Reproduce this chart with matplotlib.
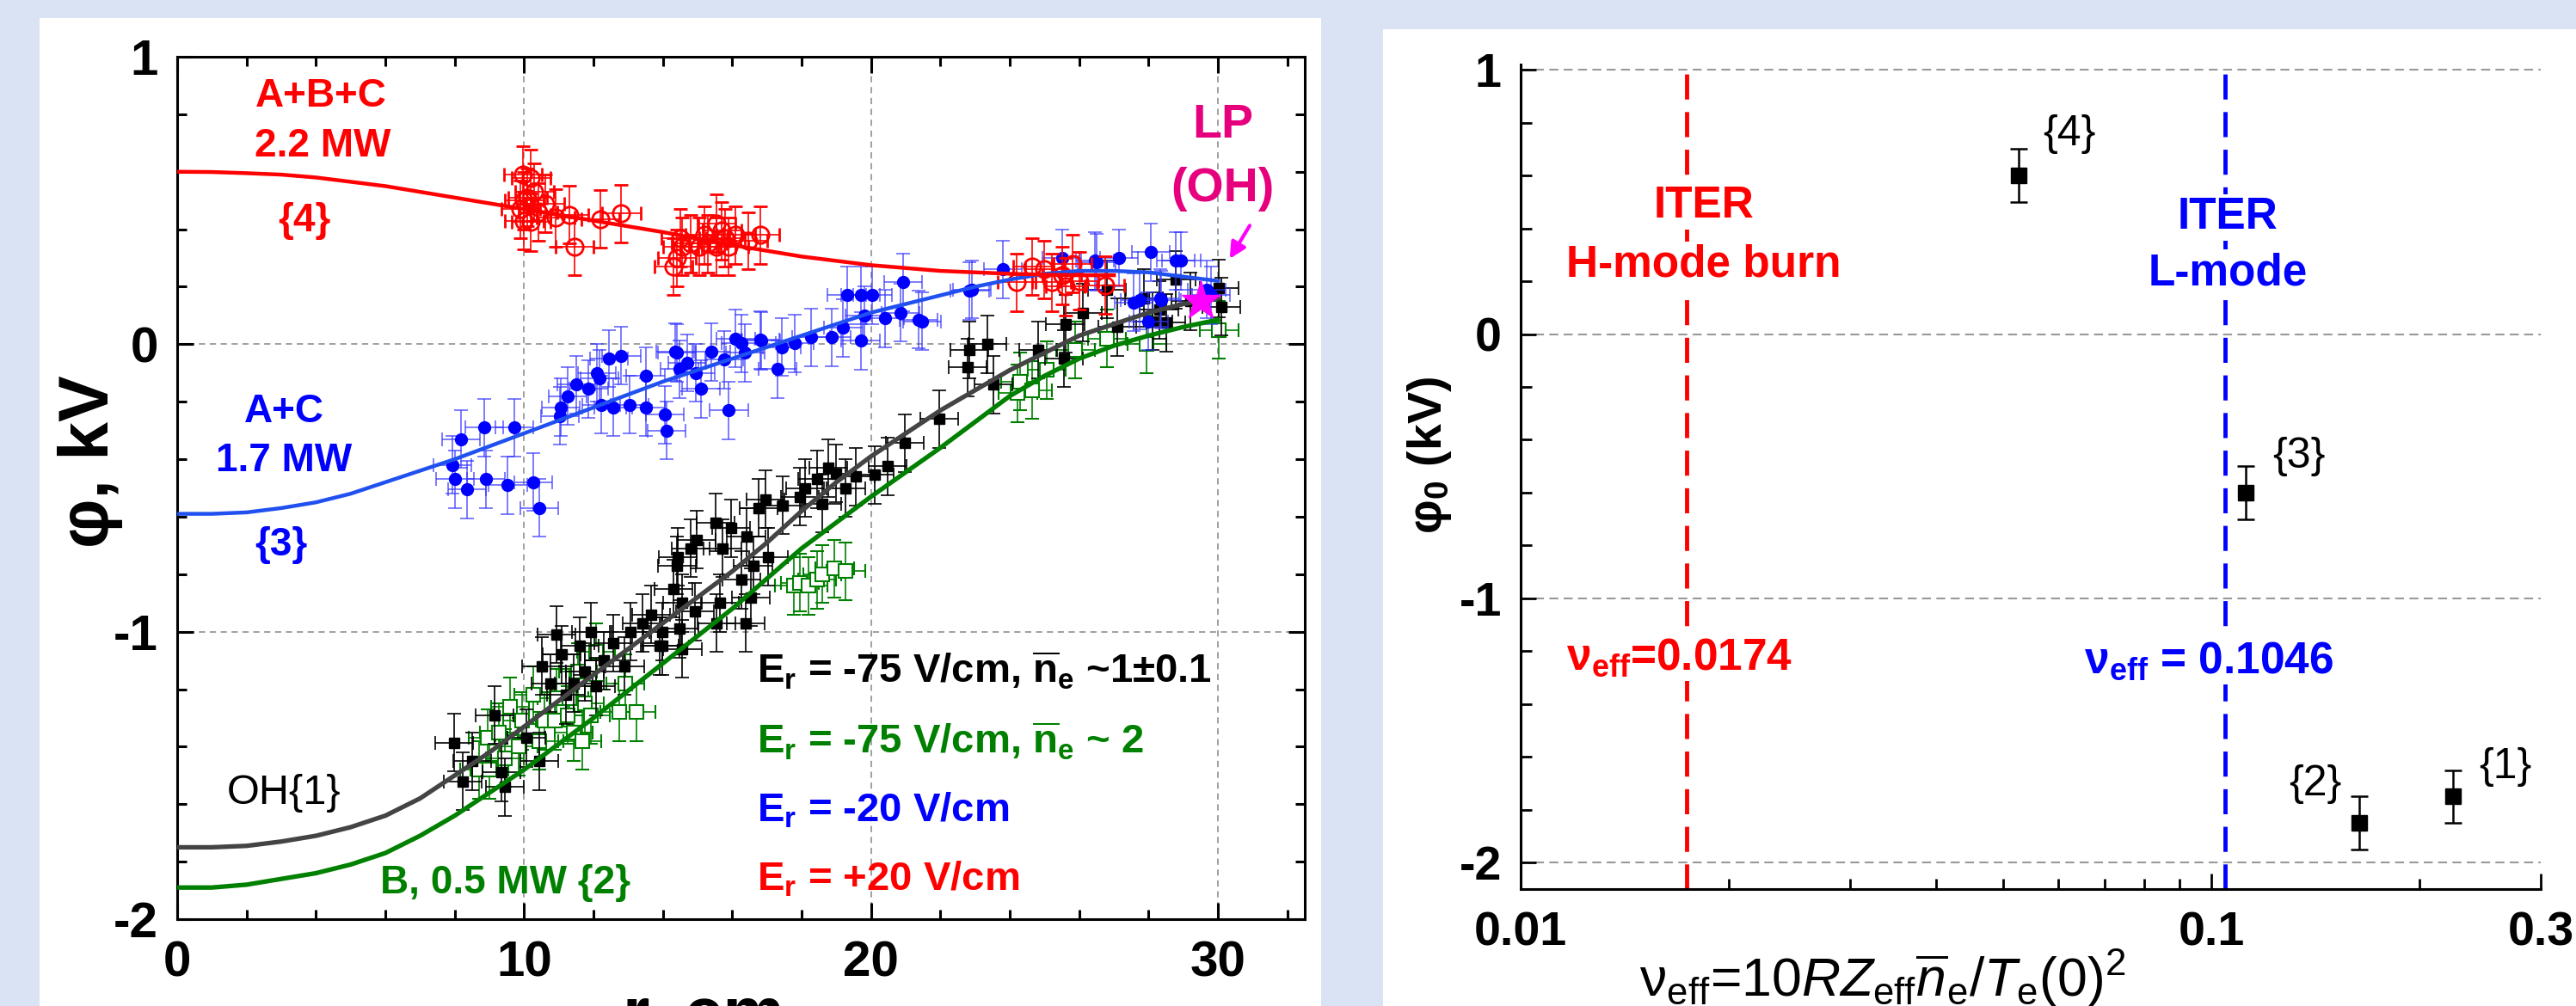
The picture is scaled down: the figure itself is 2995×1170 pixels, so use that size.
import matplotlib
matplotlib.use('Agg')
import matplotlib.pyplot as plt
from matplotlib.patches import Rectangle
from matplotlib.ticker import MultipleLocator, NullFormatter, FixedLocator

plt.rcParams['font.family'] = ['Liberation Sans', 'DejaVu Sans']
plt.rcParams['mathtext.fontset'] = 'custom'
plt.rcParams['mathtext.rm'] = 'Liberation Sans'
plt.rcParams['mathtext.it'] = 'Liberation Sans:italic'
plt.rcParams['mathtext.bf'] = 'Liberation Sans:bold'
plt.rcParams['mathtext.default'] = 'regular'
plt.rcParams['axes.unicode_minus'] = False

# ---- left panel: potential profiles phi(r) ----
# red, {4}, A+B+C 2.2 MW, Er=+20 V/cm
r_red = [9.97, 10.2, 10.1, 10.6, 10.2, 10.0, 9.9, 10.4, 10.9, 11.3, 11.46, 12.2, 12.8, 10.0, 10.3,
         14.4, 14.3, 14.56, 14.8, 15.05, 15.3, 15.55, 15.7, 15.9, 16.1, 16.46, 16.8, 15.55, 15.2, 14.5, 15.8,
         24.2, 24.65, 25.2, 25.6, 26.0, 26.75, 25.0, 25.5, 25.8]
phi_red = [0.59, 0.578, 0.51, 0.49, 0.425, 0.43, 0.47, 0.46, 0.44, 0.45, 0.34, 0.435, 0.455, 0.50, 0.53,
           0.30, 0.27, 0.34, 0.35, 0.34, 0.35, 0.42, 0.395, 0.34, 0.38, 0.36, 0.38, 0.34, 0.38, 0.37, 0.37,
           0.215, 0.27, 0.215, 0.20, 0.22, 0.205, 0.26, 0.24, 0.28]

# blue, {3}, A+C 1.7 MW, Er=-20 V/cm
r_blue = [7.94, 8.0, 8.18, 8.35, 8.85, 8.9, 9.53, 9.72, 10.27, 10.43, 11.03, 11.26, 11.5, 11.86, 12.1,
          12.45, 12.8, 12.22, 12.57, 13.04, 13.5, 13.5, 14.06, 14.1, 14.35, 14.47, 14.7, 14.95, 15.1, 15.4,
          15.77, 15.9, 16.25, 16.37, 16.84, 17.3, 17.43, 17.8, 18.27, 18.86, 19.2, 19.7, 19.3, 19.7, 20.04,
          19.8, 20.4, 20.85, 20.93, 21.37, 21.47, 22.84, 22.9, 23.8, 25.5, 26.45, 26.5, 27.15, 28.06, 28.78,
          28.94, 27.57, 27.75, 28.34, 28.37, 28.0, 29.68, 29.8, 12.17, 11.06, 16.1, 16.8, 14.4]
phi_blue = [-0.42, -0.47, -0.33, -0.505, -0.29, -0.47, -0.49, -0.29, -0.48, -0.57, -0.25, -0.18, -0.14, -0.155, -0.10,
            -0.05, -0.04, -0.21, -0.22, -0.21, -0.22, -0.11, -0.245, -0.30, -0.027, -0.087, -0.065, -0.10, -0.155, -0.027,
            -0.054, -0.23, 0.003, -0.03, 0.012, -0.087, -0.01, 0.003, 0.024, 0.024, 0.057, 0.012, 0.17, 0.17, 0.17,
            0.10, 0.09, 0.11, 0.215, 0.085, 0.08, 0.185, 0.19, 0.26, 0.30, 0.29, 0.285, 0.30, 0.32, 0.29,
            0.29, 0.145, 0.153, 0.16, 0.155, 0.08, 0.19, 0.17, -0.12, -0.22, 0.02, 0.015, -0.03]

# black, {1}, OH, Er=-75 V/cm, ne~1
r_black = [7.98, 8.23, 8.5, 9.15, 9.45, 9.35, 10.43, 10.07, 10.76, 11.08, 11.75, 12.08, 11.43, 12.57, 11.92,
           13.07, 13.98, 14.56, 10.93, 10.5, 11.2, 12.3, 12.9, 11.6, 13.4,
           13.66, 13.98, 14.48, 13.9, 14.3, 14.56, 14.93, 15.65, 16.54, 16.39, 15.55, 14.43, 14.4, 14.8, 14.98,
           15.52, 15.72, 15.97, 16.27, 16.4, 16.6, 16.76, 16.96, 17.04, 17.46, 17.95, 18.1, 18.45, 18.6, 18.77,
           19.0, 19.27, 19.56, 20.1, 20.48, 20.98,
           21.97, 22.83, 22.79, 23.36, 23.53, 24.82, 25.6, 25.56, 26.1, 26.8, 27.1, 27.87, 28.12, 28.3,
           28.5, 28.79, 30.03, 30.1, 29.2]
phi_black = [-1.386, -1.52, -1.45, -1.29, -1.54, -1.49, -1.45, -1.37, -1.18, -1.08, -1.14, -1.19, -1.18, -1.04, -1.00,
             -1.00, -1.05, -1.06, -1.01, -1.12, -1.22, -1.10, -1.12, -1.05, -0.97,
             -0.94, -1.00, -0.99, -1.05, -0.85, -0.90, -0.93, -0.90, -0.88, -0.97, -0.97, -0.74, -0.77, -0.71, -0.68,
             -0.62, -0.71, -0.64, -0.82, -0.67, -0.77, -0.57, -0.54, -0.74, -0.56, -0.53, -0.50, -0.47, -0.555, -0.43,
             -0.45, -0.50, -0.46, -0.455, -0.425, -0.344,
             -0.26, -0.02, -0.08, 0.0, -0.14, -0.02, 0.07, -0.05, 0.11, 0.19, 0.06, 0.16, 0.08, 0.12,
             0.075, 0.225, 0.195, 0.13, 0.15]

# green, {2}, B 0.5 MW, Er=-75 V/cm, ne~2
r_green = [8.7, 8.95, 9.0, 9.27, 9.45, 9.84, 9.94, 10.27, 10.43, 10.59, 10.89, 10.93, 11.26, 11.3, 11.43,
           11.55, 11.68, 11.75, 11.92, 12.08, 12.74, 12.92, 13.24, 9.6,
           17.78, 17.95, 18.2, 18.45, 18.6, 18.95, 19.27,
           24.23, 24.3, 24.65, 25.06, 25.89, 26.8, 27.95, 30.03]
phi_green = [-1.48, -1.37, -1.48, -1.35, -1.44, -1.40, -1.31, -1.22, -1.38, -1.31, -1.31, -1.23, -1.29, -1.23, -1.35,
             -1.14, -1.38, -1.25, -1.29, -1.07, -1.28, -1.18, -1.28, -1.26,
             -0.84, -0.83, -0.84, -0.82, -0.80, -0.78, -0.79,
             -0.17, -0.13, -0.16, -0.09, -0.02, 0.02, 0.0, 0.05]

r_err = 0.55
phi_err = 0.1

# fitted profiles, read every 1 cm
r_fit = [0, 1, 2, 3, 4, 5, 6, 7, 8, 9, 10, 11, 12, 13, 14, 15, 16, 17, 18, 19, 20,
         21, 22, 23, 24, 25, 26, 27, 28, 29, 30]
fit_black = [-1.75, -1.75, -1.745, -1.73, -1.71, -1.68, -1.64, -1.58, -1.50, -1.42, -1.33,
             -1.24, -1.15, -1.06, -0.97, -0.88, -0.79, -0.69, -0.58, -0.48, -0.39,
             -0.31, -0.23, -0.16, -0.09, -0.03, 0.03, 0.07, 0.11, 0.14, 0.16]
fit_green = [-1.89, -1.89, -1.88, -1.86, -1.84, -1.81, -1.77, -1.71, -1.64, -1.56, -1.48,
             -1.39, -1.30, -1.205, -1.11, -1.015, -0.92, -0.815, -0.71, -0.62, -0.53,
             -0.445, -0.36, -0.27, -0.18, -0.11, -0.05, -0.005, 0.03, 0.06, 0.085]
fit_blue = [-0.59, -0.59, -0.585, -0.57, -0.55, -0.52, -0.48, -0.44, -0.40, -0.355, -0.31,
            -0.265, -0.22, -0.175, -0.13, -0.09, -0.05, -0.01, 0.03, 0.07, 0.11,
            0.14, 0.17, 0.20, 0.225, 0.245, 0.255, 0.255, 0.25, 0.235, 0.22]
r_fit_red = [0, 1, 2, 3, 4, 5, 6, 7, 8, 9, 10, 11, 12, 13, 14, 15, 16, 17, 18, 19, 20,
             21, 22, 23, 24, 25, 26, 27]
fit_red = [0.60, 0.599, 0.595, 0.59, 0.58, 0.565, 0.55, 0.53, 0.51, 0.49, 0.47,
           0.45, 0.43, 0.41, 0.39, 0.367, 0.345, 0.325, 0.305, 0.29, 0.275,
           0.265, 0.255, 0.25, 0.245, 0.242, 0.24, 0.24]

lp_r = [29.5]
lp_phi = [0.15]

# ---- right panel: central potential vs collisionality ----
nu_eff = [0.2237, 0.164, 0.1122, 0.0526]
phi0 = [-1.75, -1.85, -0.60, 0.60]
phi0_err = [0.1, 0.1, 0.1, 0.1]
case_labels = ['{1}', '{2}', '{3}', '{4}']
nu_hmode = 0.0174
nu_lmode = 0.1046

W, H = 2995, 1170
fig = plt.figure(figsize=(W / 100, H / 100), dpi=100)
fig.patch.set_facecolor('#dae3f3')
fig.patches.append(Rectangle((46 / W, 0), 1490 / W, 1 - 21 / H, transform=fig.transFigure,
                             facecolor='white', edgecolor='none', zorder=-5))
fig.patches.append(Rectangle((1608 / W, 0), (W - 1608) / W, 1 - 34 / H, transform=fig.transFigure,
                             facecolor='white', edgecolor='none', zorder=-5))

RED = '#ff0000'
BLUE = '#0000ff'
GREEN = '#008000'
PINK = '#e6007e'

# left axes
ax = fig.add_axes([206 / W, 1 - 1069 / H, 1311 / W, (1069 - 66) / H])
ebk = dict(capsize=6, elinewidth=1.2, capthick=1.2, ls='none')
ax.errorbar(r_green, phi_green, xerr=r_err, yerr=phi_err, marker='s', ms=12, mfc='white', mec=GREEN,
            mew=1.5, color=GREEN, ecolor=GREEN, zorder=2, **ebk)
ax.errorbar(r_black, phi_black, xerr=r_err, yerr=phi_err, marker='s', ms=9, mfc='black', mec='black',
            color='black', ecolor='black', zorder=3, **ebk)
ax.errorbar(r_blue, phi_blue, xerr=r_err, yerr=phi_err, marker='o', ms=10, mfc=BLUE, mec=BLUE,
            color=BLUE, ecolor=(0.2, 0.2, 1.0, 0.75), zorder=4, **ebk)
ax.errorbar(r_red, phi_red, xerr=r_err, yerr=phi_err, marker='o', ms=14, mfc='none', mec=RED,
            mew=2, color=RED, ecolor=RED, zorder=5, **ebk)

ax.plot(r_fit, fit_green, color=GREEN, lw=3.8, zorder=6)
ax.plot(r_fit, fit_black, color='#444444', lw=3.8, zorder=6)
ax.plot(r_fit, fit_blue, color='#2050f0', lw=3.2, zorder=6)
ax.plot(r_fit_red, fit_red, color=RED, lw=3.2, zorder=6)
ax.plot(lp_r, lp_phi, marker='*', ms=34, color='#ff00ff', ls='none', zorder=7)
ax.annotate('', xy=(30.3, 0.29), xytext=(30.95, 0.42),
            arrowprops=dict(arrowstyle='-|>', color='#ff00ff', lw=3, mutation_scale=28), zorder=7)

ax.set_xlim(0, 32.5)
ax.set_ylim(-2, 1)
ax.set_xticks([0, 10, 20, 30])
ax.set_yticks([-2, -1, 0, 1])
ax.xaxis.set_minor_locator(MultipleLocator(2))
ax.yaxis.set_minor_locator(MultipleLocator(0.2))
ax.tick_params(which='both', direction='in', top=True, right=True, width=2.2)
ax.tick_params(which='major', length=14, labelsize=42)
ax.tick_params(which='minor', length=8)
ax.tick_params(axis='x', pad=18)
ax.tick_params(axis='y', pad=16)
for lab in ax.get_xticklabels() + ax.get_yticklabels():
    lab.set_fontweight('bold')
for s in ax.spines.values():
    s.set_linewidth(2.2)
ax.grid(True, which='major', color='#999999', ls=(0, (4, 3)), lw=1.3)
ax.set_axisbelow(True)

tb = dict(fontsize=33, fontweight='bold', ha='center', va='center')
ax.text(4.14, 0.862, 'A+B+C', color=RED, **tb)
ax.text(4.2, 0.689, '2.2 MW', color=RED, **tb)
ax.text(3.67, 0.428, '{4}', color=RED, **tb)
ax.text(30.13, 0.76, 'LP', color=PINK, fontsize=40, fontweight='bold', ha='center', va='center')
ax.text(30.13, 0.54, '(OH)', color=PINK, fontsize=40, fontweight='bold', ha='center', va='center')
ax.text(3.07, -0.234, 'A+C', color=BLUE, **tb)
ax.text(3.07, -0.407, '1.7 MW', color=BLUE, **tb)
ax.text(3.0, -0.70, '{3}', color=BLUE, **tb)
ax.text(3.07, -1.563, 'OH{1}', color='black', fontsize=35, ha='center', va='center')
ax.text(9.47, -1.874, 'B, 0.5 MW {2}', color=GREEN, **tb)
lb = dict(fontsize=34, fontweight='bold', ha='left', va='center')
ax.text(16.71, -1.138, r'$E_r$ = -75 V/cm, $\overline{n}_e$ ~1±0.1', color='black', **lb)
ax.text(16.71, -1.383, r'$E_r$ = -75 V/cm, $\overline{n}_e$ ~ 2', color=GREEN, **lb)
ax.text(16.71, -1.623, r'$E_r$ = -20 V/cm', color=BLUE, **lb)
ax.text(16.71, -1.862, r'$E_r$ = +20 V/cm', color=RED, **lb)

fig.text(105 / W, 1 - 537 / H, 'φ, kV', rotation=90, fontsize=58, fontweight='bold', ha='center', va='center')
fig.text(818 / W, 1 - 1205 / H, 'r, cm', fontsize=58, fontweight='bold', ha='center', va='baseline')

# right axes
ax2 = fig.add_axes([1768 / W, 1 - 1034 / H, 1186 / W, (1034 - 75) / H])
ax2.set_xscale('log')
ax2.set_xlim(0.01, 0.3)
ax2.set_ylim(-2.1, 1.02)
ax2.axvline(nu_hmode, color=RED, lw=3.5, dashes=(6, 3), zorder=1)
ax2.axvline(nu_lmode, color=BLUE, lw=3.5, dashes=(6, 3), zorder=1)
ax2.errorbar(nu_eff, phi0, yerr=phi0_err, marker='s', ms=13, color='black', ls='none',
             capsize=7, elinewidth=1.8, capthick=1.8, zorder=4)
lab_pos = [(0.2667, -1.639), (0.1415, -1.704), (0.134, -0.465), (0.0623, 0.758)]
for (lx, ly), t in zip(lab_pos, case_labels):
    ax2.text(lx, ly, t, fontsize=36, ha='center', va='center')

wb = dict(facecolor='white', edgecolor='none', pad=2)
rt = dict(fontsize=37, fontweight='bold', ha='center', va='center', zorder=3, bbox=wb)
ax2.text(0.01842, 0.485, 'ITER', color=RED, **rt)
ax2.text(0.01842, 0.263, 'H-mode burn', color=RED, **rt)
ax2.text(0.0170, -1.226, r'$ν_{eff}$=0.0174', color=RED, **rt)
ax2.text(0.1056, 0.442, 'ITER', color=BLUE, **rt)
ax2.text(0.1056, 0.231, 'L-mode', color=BLUE, **rt)
ax2.text(0.0991, -1.239, r'$ν_{eff}$ = 0.1046', color=BLUE, **rt)

ax2.xaxis.set_major_locator(FixedLocator([0.01, 0.1, 0.3]))
ax2.set_xticklabels(['0.01', '0.1', '0.3'])
ax2.xaxis.set_minor_locator(FixedLocator([0.02, 0.03, 0.04, 0.05, 0.06, 0.07, 0.08, 0.09, 0.2]))
ax2.xaxis.set_minor_formatter(NullFormatter())
ax2.set_yticks([-2, -1, 0, 1])
ax2.yaxis.set_minor_locator(MultipleLocator(0.2))
ax2.tick_params(which='both', direction='in', width=2)
ax2.tick_params(which='major', length=13, labelsize=40)
ax2.tick_params(which='minor', length=9)
ax2.tick_params(axis='x', pad=18)
ax2.tick_params(axis='y', pad=16)
for lab in ax2.get_xticklabels() + ax2.get_yticklabels():
    lab.set_fontweight('bold')
ax2.spines['top'].set_visible(False)
ax2.spines['right'].set_visible(False)
ax2.spines['left'].set_linewidth(2.2)
ax2.spines['bottom'].set_linewidth(2.2)
ax2.yaxis.grid(True, color='#999999', ls=(0, (5, 3)), lw=1.5)
ax2.set_axisbelow(True)

fig.text(1662 / W, 1 - 530 / H, r'$φ_0$ (kV)', rotation=90, fontsize=40, fontweight='bold',
         ha='center', va='center')
fig.text(2189 / W, 1 - 1138 / H,
         r'$ν_{eff}$=10$\mathit{RZ}_{eff}\overline{\mathit{n}}_e/\mathit{T}_e$(0)$^2$',
         fontsize=45, ha='center', va='center')

fig.savefig('out.png', dpi=100, facecolor=fig.get_facecolor())
